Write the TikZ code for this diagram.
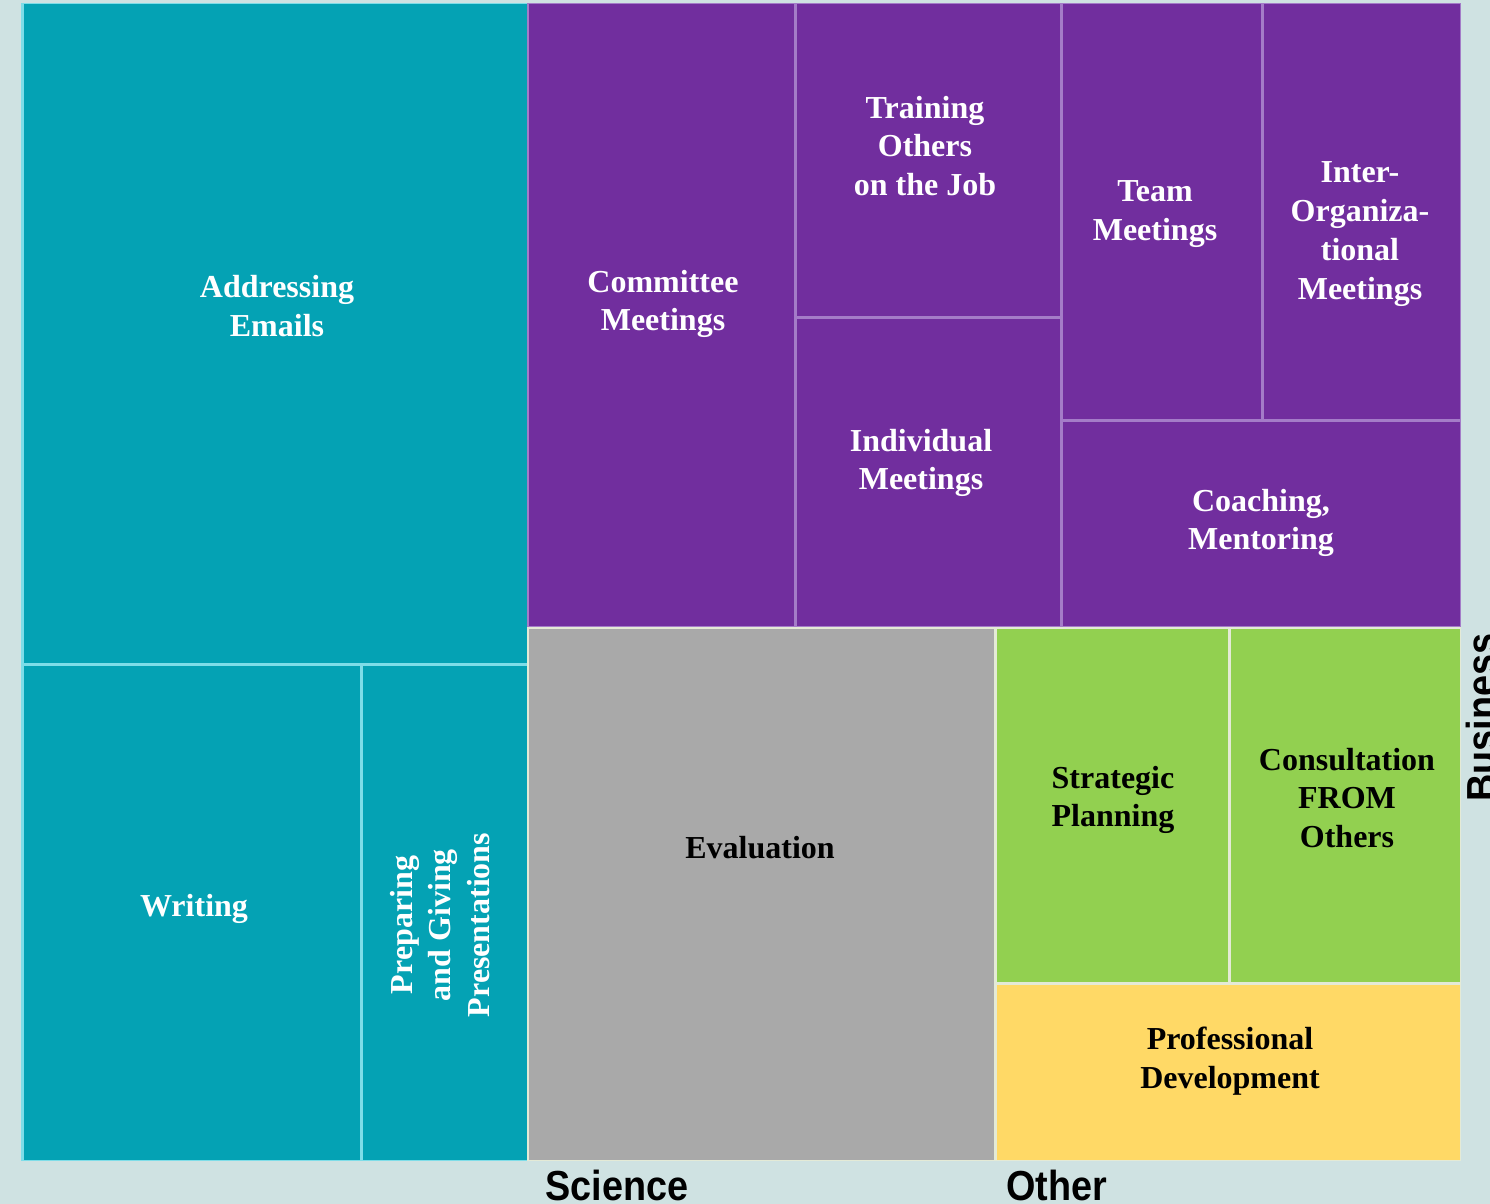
\documentclass[tikz,border=0pt]{standalone}
\usepackage{fontspec}
\setmainfont{Liberation Serif}
\newfontfamily\labfont{Liberation Sans}
\definecolor{bgc}{HTML}{CFE2E2}
\definecolor{tealc}{HTML}{04A2B4}
\definecolor{tealline}{HTML}{7EDDE8}
\definecolor{purpc}{HTML}{712E9E}
\definecolor{purpline}{HTML}{A47CC8}
\definecolor{grayc}{HTML}{A9A9A9}
\definecolor{greenc}{HTML}{92D050}
\definecolor{yellc}{HTML}{FFD966}
\definecolor{lowline}{HTML}{E4EAD6}
\tikzset{
  lab/.style={align=center,font=\fontsize{16}{19.4}\selectfont\bfseries},
  wlab/.style={lab,text=white},
  blab/.style={lab,text=black},
  axlab/.style={font=\labfont\fontsize{21}{24}\selectfont\bfseries,text=black,inner sep=0pt}
}
\begin{document}
\begin{tikzpicture}[x=0.5pt,y=-0.5pt]
\useasboundingbox (0,0) rectangle (1490,1204);
\clip (0,0) rectangle (1490,1204);
\fill[bgc] (0,0) rectangle (1490,1204);
% underlays (separator lines)
\fill[tealline] (21,3) rectangle (529,1161);
\fill[purpline] (527,3) rectangle (1461,628);
\fill[lowline] (527,627) rectangle (1461,1161);
% teal cells
\fill[tealc] (24,4) rectangle (527,663);
\fill[tealc] (24,666) rectangle (360,1160);
\fill[tealc] (363,666) rectangle (527,1160);
% purple cells
\fill[purpc] (529,4) rectangle (794,626);
\fill[purpc] (797,4) rectangle (1060,316);
\fill[purpc] (797,319) rectangle (1060,626);
\fill[purpc] (1063,4) rectangle (1261,419);
\fill[purpc] (1264,4) rectangle (1460,419);
\fill[purpc] (1063,422) rectangle (1460,626);
% lower cells
\fill[grayc] (529,629) rectangle (994,1160);
\fill[greenc] (997,629) rectangle (1228,982);
\fill[greenc] (1231,629) rectangle (1460,982);
\fill[yellc] (997,985) rectangle (1460,1160);
% labels
\node[wlab] (emails) at (277,306) {Addressing\\Emails};
\node[wlab] (writing) at (194,909) {Writing};
\node[wlab,rotate=90] (present) at (440,925) {Preparing\\and Giving\\Presentations};
\node[wlab] (committee) at (663,304) {Committee\\Meetings};
\node[wlab] (training) at (925,146) {Training\\Others\\on the Job};
\node[wlab] (individual) at (921,463) {Individual\\Meetings};
\node[wlab] (team) at (1155,214) {Team\\Meetings};
\node[wlab] (inter) at (1360,234) {Inter-\\Organiza-\\tional\\Meetings};
\node[wlab] (coaching) at (1261,523) {Coaching,\\Mentoring};
\node[blab] (evaluation) at (760,848) {Evaluation};
\node[blab] (strategic) at (1113,800) {Strategic\\Planning};
\node[blab] (consult) at (1347,798) {Consultation\\FROM\\Others};
\node[blab] (profdev) at (1230,1061) {Professional\\Development};
% axis labels
\node[axlab,anchor=base west,xscale=0.9] (science) at (545,1200) {Science};
\node[axlab,anchor=base west,xscale=0.9] (other) at (1006,1200) {Other};
\node[axlab,anchor=base west,rotate=90,xscale=0.9] (business) at (1496,802) {Business};
\end{tikzpicture}
\end{document}
